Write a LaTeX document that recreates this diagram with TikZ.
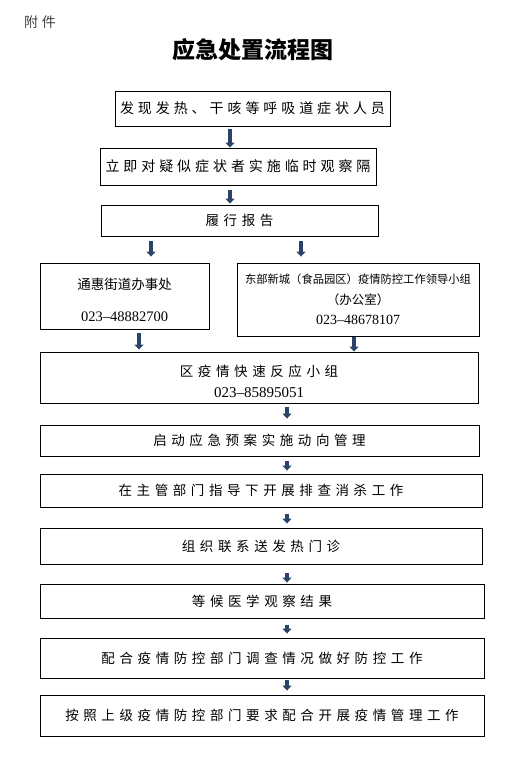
\documentclass[tikz,border=0pt]{standalone}
\usepackage{fontspec}
\setmainfont{Liberation Serif}
\newfontfamily\cjk{Noto Sans CJK SC}
\newfontfamily\cjkwide{Noto Sans CJK SC}[LetterSpace=34]
\newfontfamily\cjkmid{Noto Sans CJK SC}[LetterSpace=28]
\usetikzlibrary{arrows.meta}
\definecolor{arrowblue}{RGB}{42,68,105}
\begin{document}
\begin{tikzpicture}[x=1pt, y=-1pt,
    box/.style={draw, line width=0.9pt, inner sep=0pt, align=center},
    stepfont/.style={font=\fontsize{13.5}{15}\selectfont\cjkwide},
    downarrow/.style={draw=arrowblue, line width=3.6pt, -{Triangle[width=9pt, length=5pt]}}
  ]
  \useasboundingbox (0,0) rectangle (508,767);

  \node[font=\fontsize{14}{16}\selectfont\cjkmid, text=black!75] (annex) at (40,22) {附件};
  \node[font=\fontsize{23}{25}\selectfont\cjk\bfseries] (title) at (253,50) {应急处置流程图};

  \node[box, minimum width=275pt, minimum height=35pt, font=\fontsize{14}{15}\selectfont\cjkmid] (b1) at (252.5,108.5) {发现发热、干咳等呼吸道症状人员};
  \node[box, minimum width=276pt, minimum height=37pt, font=\fontsize{14}{15}\selectfont\cjkmid] (b2) at (238,166.5) {立即对疑似症状者实施临时观察隔};
  \node[box, stepfont, minimum width=277pt, minimum height=31pt] (b3) at (239.5,220.5) {履行报告};
  \node[box, minimum width=169pt, minimum height=66pt] (b4) at (124.5,296) {};
  \node[align=center, inner sep=0pt] (b4text) at (124.5,300)
    {{\fontsize{13.5}{15}\selectfont\cjk 通惠街道办事处}\\[20pt]{\fontsize{14.5}{16}\selectfont 023–48882700}};
  \node[box, minimum width=242pt, minimum height=73pt] (b5) at (358,299.5)
    {{\fontsize{11.3}{13}\selectfont\cjk 东部新城（食品园区）疫情防控工作领导小组}\\[9pt]
     {\fontsize{12.5}{13}\selectfont\cjk （办公室）}\\[8pt]
     {\fontsize{14}{16}\selectfont 023–48678107}};
  \node[box, minimum width=438pt, minimum height=51pt] (b6) at (259,377.5) {};
  \node[align=center, inner sep=0pt] (b6text) at (259,381)
    {{\fontsize{13.5}{15}\selectfont\cjkwide 区疫情快速反应小组}\\[9pt]{\fontsize{15}{17}\selectfont 023–85895051}};
  \node[box, stepfont, minimum width=439pt, minimum height=31pt] (b7) at (259.5,440.5) {启动应急预案实施动向管理};
  \node[box, stepfont, minimum width=442pt, minimum height=33pt] (b8) at (261,490.5) {在主管部门指导下开展排查消杀工作};
  \node[box, stepfont, minimum width=442pt, minimum height=36pt] (b9) at (261,546) {组织联系送发热门诊};
  \node[box, stepfont, minimum width=444pt, minimum height=34pt] (b10) at (262,601) {等候医学观察结果};
  \node[box, stepfont, minimum width=444pt, minimum height=40pt] (b11) at (262,658) {配合疫情防控部门调查情况做好防控工作};
  \node[box, stepfont, minimum width=444pt, minimum height=41pt] (b12) at (262,715.5) {按照上级疫情防控部门要求配合开展疫情管理工作};

  \coordinate (top) at (230,0);
  \coordinate (left) at (151,0);
  \coordinate (right) at (301,0);
  \coordinate (lowleft) at (139,0);
  \coordinate (lowright) at (354,0);
  \coordinate (main) at (287,0);

  \draw[downarrow, shorten <=3pt] (b1.south -| top) -- (b2.north -| top);
  \draw[downarrow, shorten <=5pt, shorten >=1pt] (b2.south -| top) -- (b3.north -| top);
  \draw[downarrow, shorten <=5pt, shorten >=6pt] (b3.south -| left) -- (b4.north -| left);
  \draw[downarrow, shorten <=5pt, shorten >=6pt] (b3.south -| right) -- (b5.north -| right);
  \draw[downarrow, shorten <=4pt, shorten >=2pt] (b4.south -| lowleft) -- (b6.north -| lowleft);
  \draw[downarrow, shorten <=1pt, shorten >=0pt] (b5.south -| lowright) -- (b6.north -| lowright);
  \draw[downarrow, shorten <=4pt, shorten >=6pt] (b6.south -| main) -- (b7.north -| main);
  \draw[downarrow, shorten <=5pt, shorten >=3pt] (b7.south -| main) -- (b8.north -| main);
  \draw[downarrow, shorten <=7pt, shorten >=4pt] (b8.south -| main) -- (b9.north -| main);
  \draw[downarrow, shorten <=9pt, shorten >=1pt] (b9.south -| main) -- (b10.north -| main);
  \draw[downarrow, shorten <=7pt, shorten >=4pt] (b10.south -| main) -- (b11.north -| main);
  \draw[downarrow, shorten <=2pt, shorten >=4pt] (b11.south -| main) -- (b12.north -| main);
\end{tikzpicture}
\end{document}
